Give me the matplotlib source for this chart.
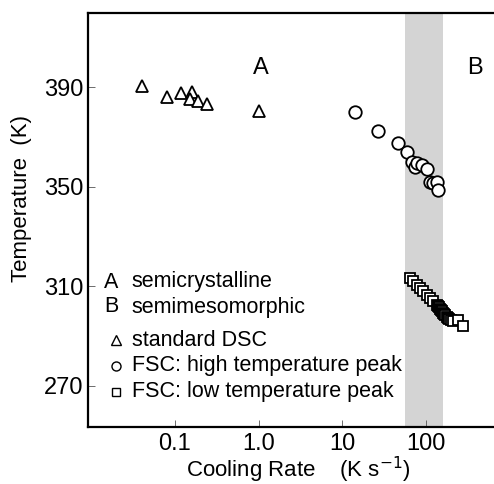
import numpy as np
import matplotlib
matplotlib.use("Agg")
import matplotlib.pyplot as plt

plt.rcParams['font.family'] = ['Liberation Sans', 'DejaVu Sans']

# Standard DSC (triangles)
dsc_rate = [0.04, 0.08, 0.117, 0.16, 0.15, 0.19, 0.24, 1.0]
dsc_temp = [390.5, 386.2, 387.8, 388.1, 385.3, 384.5, 383.3, 380.4]

# FSC high temperature peak (circles)
hi_rate = [14.0, 26.9, 46.1, 58.7, 67.3, 73.0, 77.2, 88.9, 102, 112, 122, 134, 138]
hi_temp = [380.0, 372.6, 367.5, 364.1, 360.1, 358.1, 359.7, 358.8, 357.1, 352.1, 351.5, 352.1, 348.8]

# FSC low temperature peak (squares)
lo_rate = [64.4, 70.5, 77.4, 84.8, 92.9, 102, 112, 122, 134,
           138, 142, 146, 150, 155, 160, 165, 170, 176, 182, 190, 200, 212,
           243, 279]
lo_temp = [313.4, 312.0, 310.7, 309.4, 308.0, 306.7, 305.3, 304.0, 302.6,
           302.2, 301.7, 301.1, 300.6, 300.0, 299.4, 298.8, 298.3, 297.8, 297.3, 296.9, 296.5, 296.1,
           296.6, 293.9]

band = [56, 160]
x_ticks = [0.1, 1.0, 10, 100]
x_ticklabels = ['0.1', '1.0', '10', '100']
y_ticks = [270, 310, 350, 390]

W, H = 494, 484
fig = plt.figure(figsize=(W / 100, H / 100), dpi=100)
ax = fig.add_axes([88 / W, (H - 427) / H, (520 - 88) / W, (427 - 13) / H])
ax.set_xscale('log')
ax.set_xlim(0.00914, 1327)
ax.set_ylim(253.5, 419.8)

ax.axvspan(band[0], band[1], color='#d4d4d4', lw=0, zorder=0)

mk = dict(mfc='white', mec='black', mew=1.3, ls='none')
ax.plot(dsc_rate, dsc_temp, marker='^', ms=8, zorder=3, **mk)
ax.plot(hi_rate, hi_temp, marker='o', ms=9, zorder=3, **mk)
ax.plot(lo_rate, lo_temp, marker='s', ms=7, zorder=3, **mk)

ax.set_xticks(x_ticks)
ax.set_xticklabels(x_ticklabels)
ax.set_yticks(y_ticks)
ax.minorticks_off()
ax.tick_params(direction='in', length=5, width=0.6, color='#555555', labelsize=17)
ax.tick_params(axis='y', pad=3)
ax.tick_params(axis='x', pad=4)
for s in ax.spines.values():
    s.set_linewidth(1.6)

ax.set_xlabel('Cooling Rate    (K s$^{-1}$)', fontsize=16)
ax.set_ylabel('Temperature  (K)', fontsize=16)
ax.xaxis.set_label_coords((298 - 88) / (520 - 88), -(470 - 427) / (427 - 13))
ax.xaxis.label.set_va('center')
ax.yaxis.set_label_coords(-(88 - 22) / (520 - 88), (427 - 198) / (427 - 13))
ax.yaxis.label.set_va('center')

ax.text(1.06, 397.8, 'A', fontsize=17, ha='center', va='center')
ax.text(385, 397.9, 'B', fontsize=17, ha='center', va='center')

tf = fig.transFigure
def fx(x): return x / W
def fy(y): return 1 - y / H

fs = 15.5
fig.text(fx(111), fy(282), 'A', fontsize=fs, ha='center', va='center')
fig.text(fx(131.5), fy(282), 'semicrystalline', fontsize=fs, ha='left', va='center')
fig.text(fx(111.5), fy(307), 'B', fontsize=fs, ha='center', va='center')
fig.text(fx(131.5), fy(307), 'semimesomorphic', fontsize=fs, ha='left', va='center')

leg_y = [340, 366, 392]
leg_m = ['^', 'o', 's']
leg_t = ['standard DSC', 'FSC: high temperature peak', 'FSC: low temperature peak']
for yy, m, t in zip(leg_y, leg_m, leg_t):
    fig.lines.append(plt.Line2D([fx(116)], [fy(yy)], marker=m, ms=6.5 if m != 's' else 6,
                                mfc='white', mec='black', mew=1.0, transform=tf))
    fig.text(fx(131.5), fy(yy), t, fontsize=fs, ha='left', va='center')

fig.savefig('out.png', dpi=100)
